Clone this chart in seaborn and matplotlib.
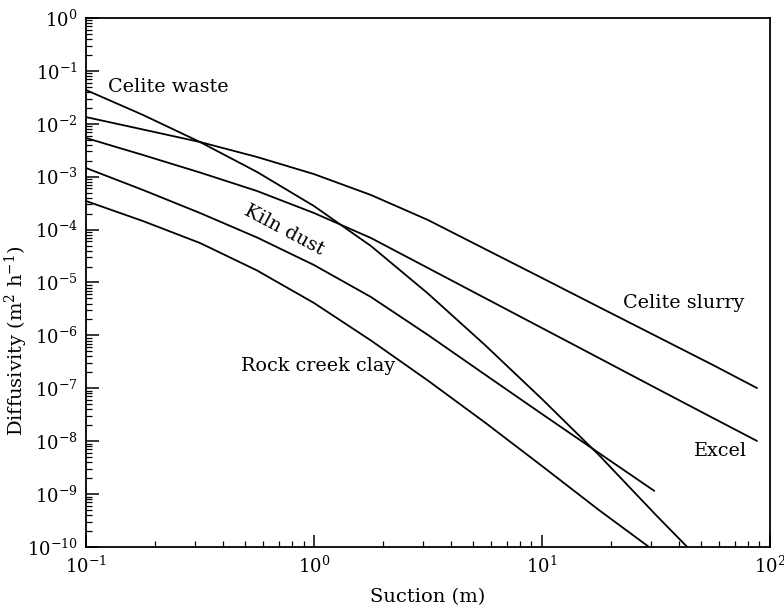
import numpy as np
import pandas as pd
import matplotlib
matplotlib.use("Agg")
import matplotlib.pyplot as plt
import seaborn as sns
from matplotlib.ticker import LogLocator, NullFormatter

# ---- data (suction in m, diffusivity in m^2/h) ----
waste_x = [0.1, 0.1778, 0.3162, 0.5623, 1.0, 1.778, 3.162, 5.623, 10.0, 17.78, 31.62, 43.4]
waste_y = [4.35e-2, 1.47e-2, 4.53e-3, 1.23e-3, 2.79e-4, 4.90e-5, 6.19e-6, 6.59e-7,
           6.28e-8, 5.48e-9, 4.03e-10, 1.0e-10]

slurry_x = [0.1, 0.1778, 0.3162, 0.5623, 1.0, 1.778, 3.162, 5.623, 10.0, 17.78, 31.62, 56.23, 87.8]
slurry_y = [1.34e-2, 7.80e-3, 4.53e-3, 2.36e-3, 1.12e-3, 4.51e-4, 1.52e-4, 4.30e-5,
            1.22e-5, 3.44e-6, 9.74e-7, 2.76e-7, 1.01e-7]

excel_x = [0.1, 0.1778, 0.3162, 0.5623, 1.0, 1.778, 3.162, 5.623, 10.0, 17.78, 31.62, 56.23, 87.8]
excel_y = [5.39e-3, 2.57e-3, 1.20e-3, 5.37e-4, 2.06e-4, 6.94e-5, 1.88e-5, 5.09e-6,
           1.38e-6, 3.74e-7, 1.01e-7, 2.75e-8, 1.01e-8]

kiln_x = [0.1, 0.1778, 0.3162, 0.5623, 1.0, 1.778, 3.162, 5.623, 10.0, 17.78, 31.1]
kiln_y = [1.46e-3, 5.61e-4, 2.06e-4, 7.10e-5, 2.14e-5, 5.32e-6, 1.02e-6, 1.82e-7,
          3.27e-8, 5.98e-9, 1.15e-9]

rock_x = [0.1, 0.1778, 0.3162, 0.5623, 1.0, 1.778, 3.162, 5.623, 10.0, 17.78, 29.5]
rock_y = [3.47e-4, 1.45e-4, 5.58e-5, 1.69e-5, 4.10e-6, 8.01e-7, 1.40e-7, 2.26e-8,
          3.40e-9, 5.00e-10, 1.0e-10]

series_names = ["Celite waste", "Celite slurry", "Excel", "Kiln dust", "Rock creek clay"]
series_x = [waste_x, slurry_x, excel_x, kiln_x, rock_x]
series_y = [waste_y, slurry_y, excel_y, kiln_y, rock_y]

x_label = "Suction (m)"
y_label = r"Diffusivity (m$^2$ h$^{-1}$)"

# ---- build long-form table ----
frames = []
for name, xs, ys in zip(series_names, series_x, series_y):
    frames.append(pd.DataFrame({"suction": xs, "diffusivity": ys, "material": name}))
df = pd.concat(frames, ignore_index=True)

sns.set_theme(style="ticks")
plt.rcParams["font.family"] = ["DejaVu Serif"]
plt.rcParams["mathtext.fontset"] = "dejavuserif"
for key in ["text.color", "axes.labelcolor", "xtick.color", "ytick.color", "axes.edgecolor"]:
    plt.rcParams[key] = "black"

fig = plt.figure(figsize=(7.84, 6.10), dpi=100)
ax = fig.add_axes([0.1097, 0.1033, 0.8723, 0.8672])

sns.lineplot(data=df, x="suction", y="diffusivity", units="material",
             estimator=None, sort=False, color="black", linewidth=1.3, ax=ax)

ax.set_xscale("log")
ax.set_yscale("log")
ax.set_xlim(0.1, 100)
ax.set_ylim(1e-10, 1)

ax.xaxis.set_major_locator(LogLocator(base=10, numticks=10))
ax.xaxis.set_minor_locator(LogLocator(base=10, subs=np.arange(2, 10), numticks=20))
ax.yaxis.set_major_locator(LogLocator(base=10, numticks=15))
ax.yaxis.set_minor_locator(LogLocator(base=10, subs=np.arange(2, 10), numticks=30))
ax.xaxis.set_minor_formatter(NullFormatter())
ax.yaxis.set_minor_formatter(NullFormatter())

ax.tick_params(axis="both", which="major", direction="in", length=9, width=1.1,
               labelsize=13, colors="black", pad=6)
ax.tick_params(axis="both", which="minor", direction="in", length=4.5, width=0.9)
ax.tick_params(top=False, right=False)
for sp in ax.spines.values():
    sp.set_linewidth(1.3)
    sp.set_color("black")

ax.set_xlabel(x_label, fontsize=14, labelpad=8)
ax.set_ylabel(y_label, fontsize=14)
ax.yaxis.set_label_coords(-0.082, 0.39)

# ---- curve labels ----
fs = 13.8
ax.text(0.125, 0.0497, "Celite waste", fontsize=fs, ha="left", va="center")
ax.text(22.7, 4.1e-6, "Celite slurry", fontsize=fs, ha="left", va="center")
ax.text(46.6, 6.5e-9, "Excel", fontsize=fs, ha="left", va="center")
ax.text(0.736, 9.8e-5, "Kiln dust", fontsize=fs, ha="center", va="center",
        rotation=-28)
ax.text(0.477, 2.64e-7, "Rock creek clay", fontsize=fs, ha="left", va="center")

fig.savefig("out.png", dpi=100)
